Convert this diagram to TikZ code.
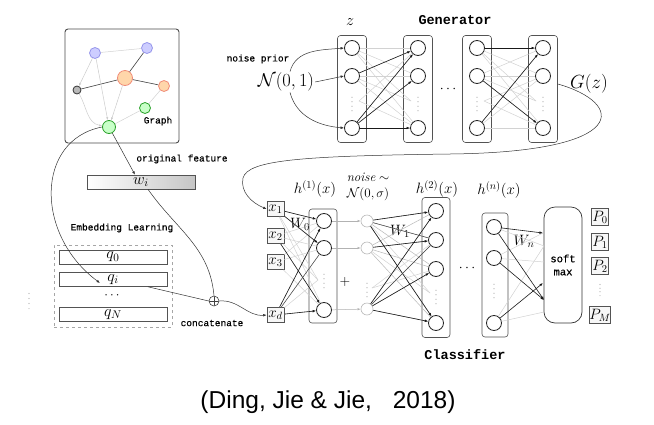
\RequirePackage{fix-cm}
\documentclass[tikz,border=0pt]{standalone}
\usepackage{fontspec}
\setmonofont{Liberation Mono}
\newfontfamily\monoheavy[FakeBold=0.5]{Liberation Mono}
\newfontfamily\capfont{Liberation Sans}
\usetikzlibrary{arrows.meta,calc}
\definecolor{bfill}{RGB}{205,205,255}
\definecolor{bdraw}{RGB}{150,150,235}
\definecolor{ofill}{RGB}{255,214,170}
\definecolor{odraw}{RGB}{240,140,120}
\definecolor{gfill}{RGB}{200,255,200}
\definecolor{gdraw}{RGB}{40,160,40}
\tikzset{
  neuron/.style={circle, draw=black!85, line width=0.85pt, minimum size=15pt, inner sep=0pt, fill=white},
  nnode/.style={circle, draw=gray!55, line width=0.6pt, minimum size=12pt, inner sep=0pt, fill=white},
  colbox/.style={draw=gray!65!black, rounded corners=3pt, line width=0.6pt, inner sep=0pt},
  xbox/.style={draw=gray!65!black, fill=gray!6, line width=0.6pt, minimum width=17pt, minimum height=15pt, inner sep=0pt, font=\fontsize{15}{15}\selectfont},
  qbox/.style={draw=gray!65!black, fill=white, line width=0.6pt, minimum width=108pt, minimum height=14pt, inner sep=0pt, font=\fontsize{16}{16}\selectfont},
  gn/.style={circle, line width=0.8pt, inner sep=0pt},
  lite/.style={draw=gray!35, line width=0.5pt},
  mid/.style={draw=gray!55!black, line width=0.5pt},
  dk/.style={draw=gray!20!black, line width=0.6pt, -{Latex[length=3.5pt,width=2.6pt]}},
  larr/.style={draw=gray!40, line width=0.5pt, -{Latex[length=3pt,width=2.2pt]}},
  curve/.style={draw=gray!40!black, line width=0.5pt, -{Latex[length=3.5pt,width=2.6pt]}},
  mono/.style={font=\fontsize{9.5}{11}\selectfont\monoheavy},
  title/.style={font=\fontsize{13.5}{15}\selectfont\ttfamily\bfseries},
  mlab/.style={font=\fontsize{15}{16}\selectfont},
  wlab/.style={font=\fontsize{15}{16}\selectfont, inner sep=0pt},
  vdots/.style={minimum width=4pt, minimum height=#1, inner sep=0pt,
    path picture={\foreach \f in {0.1,0.37,0.63,0.9}{\fill[gray!65] ($(path picture bounding box.south)!\f!(path picture bounding box.north)$) circle (0.6pt);}}},
  vdots/.default=17pt
}
\begin{document}
\begin{tikzpicture}[x=1pt,y=-1pt]
\useasboundingbox (0,0) rectangle (654,424);
\fill[white] (0,0) rectangle (654,424);

% ---------------- Graph ----------------
\node[draw=gray!60!black, rounded corners=3pt, line width=0.9pt, minimum width=114pt, minimum height=114pt] (gbox) at (122,86) {};
\node[gn, fill=bfill, draw=bdraw, minimum size=11pt] (gB1) at (95,53) {};
\node[gn, fill=bfill, draw=bdraw, minimum size=11pt] (gB2) at (147,48) {};
\node[gn, fill=ofill, draw=odraw, minimum size=15pt] (gO1) at (125,78) {};
\node[gn, fill=ofill, draw=odraw, minimum size=11pt] (gO2) at (164,86) {};
\node[gn, fill=gray!55, draw=gray!40!black, minimum size=8pt] (gK) at (77,90) {};
\node[gn, fill=gfill, draw=gdraw, minimum size=11pt] (gG2) at (145,108) {};
\node[gn, fill=gfill, draw=gdraw, minimum size=13pt] (gG1) at (109,127) {};
\node[mono] (glab) at (158,121) {Graph};
\draw[lite] (gB1) -- (gB2);
\draw[gray!50!black, line width=0.6pt] (gB2) -- (gO1);
\draw[gray!50!black, line width=0.6pt] (gO1) -- (gK);
\draw[gray!50!black, line width=0.6pt] (gO1) -- (gO2);
\draw[lite] (gO2) -- (gG2);
\draw[lite] (gG2) -- (gG1);
\draw[larr] (gB1) -- (gK);
\draw[larr] (gB1) -- (gG1);
\draw[larr] (gO1) -- (gG1);
\draw[larr] (gK) to[out=-60,in=170] (gG1);

% ---------------- features ----------------
\node[mono] (oflab) at (182,159) {original feature};
\node[draw=gray!65!black, line width=0.6pt, left color=white, right color=gray!45, minimum width=108pt, minimum height=14pt, inner sep=0pt, font=\fontsize{16}{16}\selectfont] (wi) at (141,182) {$w_i$};
\draw[curve] (gG1) -- ([xshift=-6pt]wi.north);

\node[mono] (emlab) at (122,228) {Embedding Learning};
\node[draw=gray!70, dashed, line width=0.6pt, minimum width=118pt, minimum height=82pt] (embox) at (113,286) {};
\node[qbox] (q0) at (113,257) {$q_0$};
\node[qbox] (qi) at (113,279.5) {$q_i$};
\node[inner sep=0pt, font=\fontsize{13}{13}\selectfont] (qdots) at (112,296) {$\cdots$};
\node[qbox] (qN) at (113,314.5) {$q_N$};
\node[vdots=19pt] (ldots) at (29,301) {};
\coordinate (qiend) at (100,283);
\draw[curve] (gG1.west) .. controls (35,140) and (35,235) .. (qiend);

\node[circle, draw=gray!50!black, line width=0.6pt, minimum size=10pt, inner sep=0pt,
  path picture={\draw[gray!50!black, line width=0.5pt] (path picture bounding box.north) -- (path picture bounding box.south) (path picture bounding box.west) -- (path picture bounding box.east);}] (cat) at (214,301) {};
\node[mono] (catlab) at (212,323) {concatenate};
\draw[gray!40!black, line width=0.5pt] ([xshift=7pt]wi.south) to[out=-55,in=95] (cat.north);
\draw[gray!40!black, line width=0.5pt] ([xshift=35pt]qi.south) -- (cat.west);

% ---------------- Generator ----------------
\node[title] (gentitle) at (455,20) {Generator};
\node[font=\fontsize{16}{16}\selectfont] (zlab) at (350,22) {$z$};
\foreach \col/\xx in {1/352,2/418,3/477,4/543}{
  \node[colbox, minimum width=29pt, minimum height=107pt] (gc\col) at (\xx,89) {};
  \node[neuron] (g\col a) at (\xx,48) {};
  \node[neuron] (g\col b) at (\xx,76) {};
  \node[neuron] (g\col c) at (\xx,128) {};
  \node[vdots] (g\col d) at (\xx,104) {};
  \coordinate (g\col L) at (\xx-7,101);
  \coordinate (g\col R) at (\xx+7,101);
}
\node[font=\fontsize{14}{14}\selectfont] (gdots) at (448,89) {$\cdots$};
\foreach \s in {a,b,c}{\foreach \t in {a,b,c}{
  \draw[lite] (g1\s) -- (g2\t);
  \draw[lite] (g3\s) -- (g4\t);
}}
\draw[lite] (g1a) -- (g2L);
\draw[lite] (g1b) -- (g2L);
\draw[lite] (g1R) -- (g2a);
\draw[lite] (g1R) -- (g2c);
\draw[lite] (g3a) -- (g4L);
\draw[lite] (g3b) -- (g4L);
\draw[lite] (g3R) -- (g4b);
\draw[lite] (g3R) -- (g4c);
\draw[dk] (g1b) -- (g2a);
\draw[dk] (g1c) -- (g2a);
\draw[dk] (g1c) -- (g2b);
\draw[dk] (g1c) -- (g2c);
\draw[dk] (g3a) -- (g4a);
\draw[dk] (g3b) -- (g4c);
\draw[dk] (g3c) -- (g4a);

\node[mono] (nplab) at (258,59) {noise prior};
\node[font=\fontsize{18.5}{20}\selectfont, inner sep=1pt] (nz) at (286,82) {$\mathcal{N}(0,1)$};
\draw[curve] ([xshift=4pt]nz.north) to[out=75,in=185] (g1a.west);
\draw[curve] (nz.east) -- (g1b.west);
\draw[curve] ([xshift=4pt]nz.south) to[out=-75,in=175] (g1c.west);

\node[font=\fontsize{19}{20}\selectfont] (gz) at (589,84) {$G(z)$};

% ---------------- Classifier ----------------
\node[xbox] (x1) at (275.5,209) {$x_1$};
\node[xbox] (x2) at (275.5,236) {$x_2$};
\node[xbox] (x3) at (275.5,262) {$x_3$};
\node[xbox] (xd) at (275.5,315) {$x_d$};
\draw[curve] (cat.east) to[out=5,in=185] (xd.west);
\draw[curve] ([yshift=5pt]gc4.east) .. controls (625,103) and (632,152) .. (450,154)
  .. controls (300,156) and (248,160) .. (243,178)
  .. controls (240,192) and (252,203) .. (x1.west);

\node[colbox, minimum width=28pt, minimum height=114pt] (hc1) at (323,266) {};
\node[neuron] (h1a) at (324,221) {};
\node[neuron] (h1b) at (324,248) {};
\node[neuron] (h1c) at (324,310) {};
\node[vdots] (h1d) at (324,281) {};
\coordinate (h1L) at (318,280);
\node[mlab] (h1lab) at (315,189) {$h^{(1)}(x)$};
\node[wlab] (w0lab) at (300,224) {$W_0$};

\node[nnode] (n1) at (367,221) {};
\node[nnode] (n2) at (367,248) {};
\node[nnode] (n3) at (367,309) {};
\node[vdots] (nd) at (367,290) {};
\coordinate (nR) at (372,288);
\node[font=\fontsize{13}{14}\selectfont, inner sep=0pt] (noiselab) at (368,177) {$\mathit{noise}\sim$};
\node[font=\fontsize{13}{14}\selectfont, inner sep=0pt] (nsig) at (368,194) {$\mathcal{N}(0,\sigma)$};
\node[font=\fontsize{14}{14}\selectfont] (plus) at (345,282) {$+$};

\node[colbox, minimum width=28pt, minimum height=140pt] (hc2) at (436,267.5) {};
\node[neuron] (h2a) at (436,211) {};
\node[neuron] (h2b) at (436,240) {};
\node[neuron] (h2c) at (436,269) {};
\node[neuron] (h2d) at (436,323) {};
\node[vdots] (h2dots) at (436,297) {};
\coordinate (h2L) at (430,293);
\node[mlab] (h2lab) at (437,189) {$h^{(2)}(x)$};
\node[wlab] (w1lab) at (400,231) {$W_1$};

\node[font=\fontsize{14}{14}\selectfont] (cdots) at (467,268) {$\cdots$};

\node[colbox, minimum width=26pt, minimum height=124pt] (hcn) at (495,275) {};
\node[neuron] (hna) at (494,227) {};
\node[neuron] (hnb) at (494,258) {};
\node[neuron] (hnc) at (494,323) {};
\node[vdots] (hndots) at (494,291) {};
\node[mlab] (hnlab) at (499,190) {$h^{(n)}(x)$};
\node[wlab] (wnlab) at (524,241) {$W_n$};

\node[draw=black!80, rounded corners=11pt, line width=0.7pt, minimum width=38pt, minimum height=116pt, align=center, font=\fontsize{10.5}{13}\selectfont\monoheavy] (sm) at (563,265) {soft\\max};
\node[xbox, minimum height=17pt] (P0) at (600,217) {$P_0$};
\node[xbox, minimum height=17pt] (P1) at (600,242) {$P_1$};
\node[xbox, minimum height=17pt] (P2) at (600,266) {$P_2$};
\node[vdots=14pt] (Pdots) at (600,290) {};
\node[xbox, minimum height=17pt] (PM) at (600,315) {$P_M$};

\node[title] (cltitle) at (465,355) {Classifier};

% x -> h1
\foreach \s in {x1,x2,x3,xd}{\foreach \t in {h1a,h1b,h1c}{\draw[lite] (\s) -- (\t);}}
\draw[lite] (x1) -- (h1L);
\draw[lite] (x2) -- (h1L);
\draw[lite] (xd) -- (h1L);
\draw[dk] (x1) -- (h1a);
\draw[dk] (x1) -- (h1b);
\draw[dk] (x2) -- (h1c);
\draw[dk] (xd) -- (h1a);
\draw[mid] (xd) -- (h1b);
\draw[dk] (xd) -- (h1c);
% h1 -> noise
\draw[larr, draw=gray!60] (h1a) -- (n1);
\draw[larr, draw=gray!60] (h1b) -- (n2);
\draw[larr, draw=gray!60] (h1c) -- (n3);
% noise -> h2
\foreach \s in {n1,n2,n3}{\foreach \t in {h2a,h2b,h2c,h2d}{\draw[mid, draw=gray!55] (\s) -- (\t);}}
\draw[lite] (n1) -- (h2L);
\draw[lite] (n2) -- (h2L);
\draw[lite] (nR) -- (h2b);
\draw[lite] (nR) -- (h2c);
\draw[dk] (n1) -- (h2a);
\draw[dk] (n3) -- (h2a);
\draw[dk] (n2) -- (h2b);
\draw[dk] (n3) -- (h2c);
\draw[dk] (n1) -- (h2d);
\draw[dk] (n3) -- (h2d);
\draw[mid] (n3) -- (h2b);
\draw[mid] (n1) -- (h2b);
% hn -> softmax
\coordinate (sA) at (543,233);
\coordinate (sB) at (544,300);
\coordinate (sC) at (543,283);
\coordinate (sD) at (544,246);
\coordinate (sE) at (544,262);
\coordinate (sF) at (544,312);
\draw[lite] (hna) -- (sD);
\draw[lite] (hnb) -- (sE);
\draw[lite] (hnb) -- (sA);
\draw[lite] (hnc) -- (sD);
\draw[lite] (hnc) -- (sF);
\draw[dk] (hna) -- (sA);
\draw[dk] (hna) -- (sB);
\draw[dk] (hnb) -- (sB);
\draw[dk] (hnc) -- (sC);

% caption
\node[font=\capfont\fontsize{24.5}{28}\selectfont] (cap) at (328,402) {(Ding, Jie \& Jie,\hspace{14pt} 2018)};
\end{tikzpicture}
\end{document}
